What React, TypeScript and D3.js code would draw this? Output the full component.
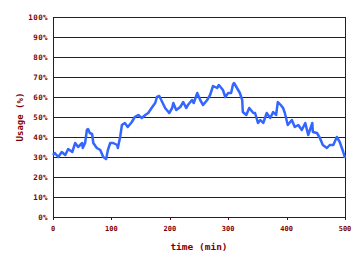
import React from "react";
import * as d3 from "d3";

const times = [0,3,9,15,21,26,33,38,43,50,51,55,58,60,63,67,69,75,81,86,91,94,98,103,110,111,115,118,123,128,135,140,146,152,158,163,170,175,178,182,187,192,199,204,206,211,218,223,228,231,238,241,247,252,257,264,269,274,281,284,291,295,300,305,308,310,315,320,324,325,331,336,343,346,351,355,360,366,372,377,382,385,390,394,397,402,409,414,420,426,432,437,444,445,452,457,462,469,474,480,486,491,497,500];
const usage = [31,32,30,32.5,31,34,32.5,37,35,37,34.5,37,43.5,44,42,41.5,37,34.5,33.5,30,29,33.5,37,37,36,34.5,40,46,47,45,47.5,50,51,49.5,51,52,55,57,60,60.5,57.5,54.5,52,54.5,57,53.5,55,57.5,54.5,56,58.5,57,62,58.5,56,58.5,61,65.5,64.5,66,63.5,60,62,62,66,67,64.5,62,58.5,52.5,51,54.5,52,52,47,48.5,47,52,49.5,52.5,51,57.5,56,54.5,52,46,48.5,45,46,43.5,47,41,47,42.5,42,39.5,36,34.5,36,36,40,37.5,32.5,29.5];
const xTicks = [0,100,200,300,400,500];
const yTicks = [0,10,20,30,40,50,60,70,80,90,100];

const W = 363, H = 265;
const ML = 53, MR = 345, MT = 17, MB = 217;
const AXIS = "#700000";
const TEXT = "#800000";
const FONT = "'DejaVu Sans Mono', monospace";

export default function App() {
  const x = d3.scaleLinear().domain([0, 500]).range([ML, MR]);
  const y = d3.scaleLinear().domain([0, 100]).range([MB, MT]);
  const data = times.map((t, i) => [t, usage[i]] as [number, number]);
  const line = d3.line<[number, number]>().x(d => x(d[0])).y(d => y(d[1]));
  return (
    <div style={{ position: "fixed", left: 0, top: 0 }}>
      <svg width={W} height={H} style={{ display: "block", background: "#fff" }}>
        {yTicks.map(v => (
          <line key={"g" + v} x1={ML} x2={MR} y1={Math.round(y(v)) + 0.5} y2={Math.round(y(v)) + 0.5} stroke={AXIS} strokeWidth={1} />
        ))}
        <line x1={ML + 0.5} x2={ML + 0.5} y1={MT} y2={MB + 1} stroke={AXIS} />
        <line x1={MR + 0.5} x2={MR + 0.5} y1={MT} y2={MB + 1} stroke={AXIS} />
        {xTicks.map(v => (
          <line key={"t" + v} x1={Math.round(x(v)) + 0.5} x2={Math.round(x(v)) + 0.5} y1={MB} y2={MB + 3} stroke={AXIS} />
        ))}
        <path d={line(data) || ""} fill="none" stroke="#3366ff" strokeWidth={2.5} strokeLinejoin="round" />
        {yTicks.map(v => (
          <text key={"yl" + v} x={48} y={y(v) + 2.5} textAnchor="end" fontFamily={FONT} fontWeight="bold" fontSize={7.5} fill={TEXT} letterSpacing={0.4}>{v + "%"}</text>
        ))}
        {xTicks.map(v => (
          <text key={"xl" + v} x={x(v)} y={231} textAnchor="middle" fontFamily={FONT} fontWeight="bold" fontSize={7} fill={TEXT}>{v}</text>
        ))}
        <text x={(ML + MR) / 2} y={250} textAnchor="middle" fontFamily={FONT} fontWeight="bold" fontSize={9.5} fill={TEXT}>time (min)</text>
        <text transform={`translate(23,${(MT + MB) / 2}) rotate(-90)`} textAnchor="middle" fontFamily={FONT} fontWeight="bold" fontSize={9} fill={TEXT}>Usage (%)</text>
      </svg>
    </div>
  );
}
